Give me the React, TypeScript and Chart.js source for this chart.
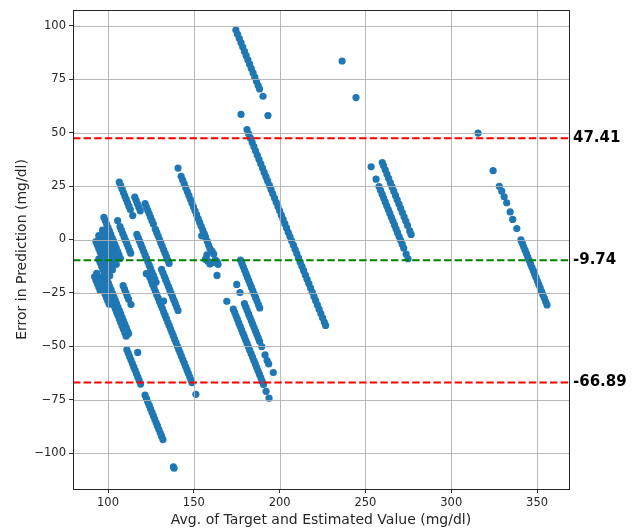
import React, { useEffect, useRef } from "react";
import { Chart, registerables } from "chart.js";

Chart.register(...registerables);

// ---- Data (avg of target & estimate, error in prediction) ----
const leftCluster: [number, number][] = [
  [97.6, 10.4], [98.4, 8.8], [99.2, 7.2], [100, 5.6], [100.8, 4], [101.6, 2.4], [102.4, 0.8], [103.2, -0.8], [104, -2.4], [104.8, -4], [105.6, -5.6], [106.4, -7.2], [107.2, -8.8],
  [96.8, 4.4], [97.6, 2.8], [98.4, 1.2], [99.2, -0.4], [100, -2], [100.8, -3.6], [101.6, -5.2], [102.4, -6.8], [103.2, -8.4], [104, -10], [104.8, -11.6],
  [94.6, 1.8], [95.4, 0.2], [96.2, -1.4], [97, -3], [97.8, -4.6], [98.6, -6.2], [99.4, -7.8], [100.2, -9.4], [101, -11], [101.8, -12.6], [102.6, -14.2],
  [93, -1], [93.8, -2.6], [94.6, -4.2], [95.4, -5.8], [96.2, -7.4], [97, -9], [97.8, -10.6], [98.6, -12.2], [99.4, -13.8], [100.2, -15.4], [101, -17],
  [94.6, -9.2], [95.4, -10.8], [96.2, -12.4], [97, -14], [97.8, -15.6], [98.6, -17.2], [99.4, -18.8], [100.2, -20.4], [101, -22], [101.8, -23.6], [102.6, -25.2], [103.4, -26.8], [104.2, -28.4], [105, -30], [105.8, -31.6], [106.6, -33.2], [107.4, -34.8], [108.2, -36.4], [109, -38], [109.8, -39.6], [110.6, -41.2], [111.4, -42.8], [112, -44],
  [97, -18], [97.8, -19.6], [98.6, -21.2], [99.4, -22.8], [100.2, -24.4], [101, -26], [101.8, -27.6], [102.6, -29.2], [103.4, -30.8], [104.2, -32.4], [105, -34], [105.8, -35.6], [106.6, -37.2], [107.4, -38.8], [108.2, -40.4], [109, -42], [109.8, -43.6], [110.6, -45.2],
  [93.4, -15.8], [94.2, -17.4], [95, -19], [95.8, -20.6], [96.6, -22.2], [97.4, -23.8], [98.2, -25.4], [99, -27], [99.8, -28.6], [100.6, -30.2],
  [92.2, -17.4], [93, -19], [93.8, -20.6], [94.6, -22.2], [95.4, -23.8],
  [105.6, 8.8], [107, 6], [107.8, 4.4], [108.6, 2.8], [109.4, 1.2], [110.2, -0.4], [111, -2], [111.8, -3.6], [112.6, -5.2], [113.2, -6.4],
  [108.8, -21.6], [109.6, -23.2], [110.4, -24.8], [111.2, -26.4], [112, -28], [113.4, -30.4],
];

const lowerStreaks: [number, number][] = [
  [111, -51.6], [111.8, -53.2], [112.6, -54.8], [113.4, -56.4], [114.2, -58], [115, -59.6], [115.8, -61.2], [116.6, -62.8], [117.4, -64.4], [118.2, -66], [119, -67.6], [117.3, -52.8],
  [121.6, -72.8], [122.4, -74.4], [123.2, -76], [124, -77.6], [124.8, -79.2], [125.6, -80.8], [126.4, -82.4], [127.2, -84], [128, -85.6], [128.8, -87.2], [129.6, -88.8], [130.4, -90.4], [131.2, -92], [132, -93.6],
  [138.1, -106.3], [138.5, -107],
];

const centerStreaks: [number, number][] = [
  [106.6, 26.8], [107.4, 25.2], [108.2, 23.6], [109, 22], [109.8, 20.4], [110.6, 18.8], [111.4, 17.2], [112.2, 15.6], [113, 14], [114.4, 11.2],
  [115.6, 19.8], [116.4, 18.2], [117.2, 16.6], [118, 15], [118.8, 13.4],
  [121.6, 16.8], [122.4, 15.2], [123.2, 13.6], [124, 12], [124.8, 10.4], [125.6, 8.8], [126.4, 7.2], [127.6, 4.8], [128.4, 3.2], [129.2, 1.6], [130, 0], [130.8, -1.6], [131.6, -3.2], [132.4, -4.8], [133.2, -6.4], [134, -8], [134.8, -9.6], [135.6, -11.2],
  [116.8, 2.4], [117.6, 0.8], [118.4, -0.8], [119.2, -2.4], [120, -4], [120.8, -5.6], [121.6, -7.2], [122.4, -8.8], [123.2, -10.4], [124, -12], [124.8, -13.6], [125.6, -15.2], [126.4, -16.8], [127.2, -18.4], [128, -20],
  [123.6, -16.2], [124.4, -17.8], [125.2, -19.4], [126, -21], [126.8, -22.6], [127.6, -24.2], [128.4, -25.8], [129.2, -27.4], [130, -29], [130.8, -30.6], [131.6, -32.2], [132.4, -33.8], [133.2, -35.4], [134, -37], [134.8, -38.6], [135.6, -40.2], [136.4, -41.8], [137.2, -43.4], [138, -45], [138.8, -46.6], [139.6, -48.2], [140.4, -49.8], [141.2, -51.4], [142, -53], [142.8, -54.6], [143.6, -56.2], [144.4, -57.8], [145.2, -59.4], [146, -61], [146.8, -62.6], [147.6, -64.2], [148.4, -65.8], [149, -67], [151.2, -72.4],
  [131.2, -14], [132, -15.6], [132.8, -17.2], [133.6, -18.8], [134.4, -20.4], [135.2, -22], [136, -23.6], [136.8, -25.2], [137.6, -26.8], [138.4, -28.4], [139.2, -30], [140, -31.6], [140.8, -33.2],
  [122.3, -16], [132.4, -28.8],
];

const middleStreaks: [number, number][] = [
  [140.8, 33.4],
  [142.6, 29.6], [143.5, 27.8], [144.4, 26], [145.3, 24.2], [146.2, 22.4], [147.1, 20.6], [148, 18.8], [148.9, 17], [149.8, 15.2], [150.7, 13.4], [151.6, 11.6], [152.5, 9.8], [153.4, 8], [154.3, 6.2], [155.2, 4.4], [156.1, 2.6], [156.8, 1.2],
  [154.6, 1.7], [157.8, -0.8], [158.6, -2.6], [159.4, -4.2], [160.6, -5.4], [161.6, -6.8], [157.6, -7.2], [156.8, -9.2], [158.2, -10.2], [159.4, -11.5], [161.2, -10.7], [162.6, -9.6], [163.6, -10.4], [164.1, -11.6], [163.5, -16.8],
  [177.2, -9.6], [178, -11.2], [178.8, -12.8], [179.6, -14.4], [180.4, -16], [181.2, -17.6], [182, -19.2], [182.8, -20.8], [183.6, -22.4], [184.4, -24], [185.2, -25.6], [186, -27.2], [186.8, -28.8], [187.6, -30.4], [188.4, -32],
  [175, -21], [176.9, -24.8],
  [179.5, -30], [180.3, -31.6], [181.1, -33.2], [181.9, -34.8], [182.7, -36.4], [183.5, -38], [184.3, -39.6], [185.1, -41.2], [185.9, -42.8], [186.7, -44.4], [187.5, -46], [188.3, -47.6],
  [189.6, -50.1], [191.5, -54], [192.7, -56.6], [193.6, -58.2], [196.3, -62.2],
  [169.2, -28.9],
  [173, -32.6], [173.8, -34.2], [174.6, -35.8], [175.4, -37.4], [176.2, -39], [177, -40.6], [177.8, -42.2], [178.6, -43.8], [179.4, -45.4], [180.2, -47], [181, -48.6], [181.8, -50.2], [182.6, -51.8], [183.4, -53.4], [184.2, -55], [185, -56.6], [185.8, -58.2], [186.6, -59.8], [187.4, -61.4], [188.2, -63], [189, -64.6], [189.8, -66.2], [190.6, -67.8],
  [192.1, -71], [193.8, -74.2],
];

const upperStreaks: [number, number][] = [
  [174.5, 98], [175.5, 96], [176.5, 94], [177.5, 92], [178.5, 90], [179.5, 88], [180.5, 86], [181.5, 84], [182.5, 82], [183.5, 80], [184.5, 78], [185.5, 76], [186.5, 74], [187.5, 72], [188.3, 70.4], [190.3, 67],
  [177.5, 58.5], [193.2, 58],
  [181, 51.4], [182, 49.4], [183, 47.4], [184, 45.4], [185, 43.4], [186, 41.4], [187, 39.4], [188, 37.4], [189, 35.4], [190, 33.4], [191, 31.4], [192, 29.4], [193, 27.4], [194, 25.4], [195, 23.4], [196, 21.4], [197, 19.4], [198, 17.4], [199, 15.4], [200, 13.4], [201, 11.4], [202, 9.4], [203, 7.4], [204, 5.4], [205, 3.4], [206, 1.4], [207, -0.6], [208, -2.6], [209, -4.6], [210, -6.6], [211, -8.6], [212, -10.6], [213, -12.6], [214, -14.6], [215, -16.6], [216, -18.6], [217, -20.6], [218, -22.6], [219, -24.6], [220, -26.6], [221, -28.6], [222, -30.6], [223, -32.6], [224, -34.6], [225, -36.6], [226, -38.6], [226.8, -40.2],
];

const rightStreaks: [number, number][] = [
  [236.4, 83.5], [244.5, 66.4],
  [259.8, 36], [260.5, 34.6], [261.5, 32.6], [262.5, 30.6], [263.5, 28.6], [264.5, 26.6], [265.5, 24.6], [266.5, 22.6], [267.5, 20.6], [268.5, 18.6], [269.5, 16.6], [270.5, 14.6], [271.5, 12.6], [272.5, 10.6], [273.5, 8.6], [274.5, 6.6], [275.8, 4], [276.6, 2.4],
  [253.3, 34], [256.2, 28.2], [257.9, 24.8], [258.8, 23], [259.7, 21.2], [260.6, 19.4], [261.5, 17.6], [262.4, 15.8], [263.3, 14], [264.2, 12.2], [265.1, 10.4], [266, 8.6], [266.9, 6.8], [267.8, 5], [268.7, 3.2], [269.6, 1.4], [270.5, -0.4], [271.4, -2.2], [272.3, -4], [273.7, -6.8], [274.8, -9],
  [315.6, 49.8], [324.4, 32.2], [328, 24.9], [329.4, 22.6], [330.8, 20], [332.3, 17.2], [334.3, 12.9], [335.8, 9.4], [338.2, 5.1],
  [340.6, -0.2], [341.4, -1.8], [342.2, -3.4], [343, -5], [343.8, -6.6], [344.6, -8.2], [345.4, -9.8], [346.2, -11.4], [347, -13], [347.8, -14.6], [348.6, -16.2], [349.4, -17.8], [350.2, -19.4], [351, -21], [351.8, -22.6], [352.6, -24.2], [353.4, -25.8], [354.2, -27.4], [355, -29], [355.8, -30.6],
];

const xTicks = [100, 150, 200, 250, 300, 350];
const yTicks = [-100, -75, -50, -25, 0, 25, 50, 75, 100];
const limitValues = [47.41, -9.74, -66.89];
const limitLabels = ["47.41", "-9.74", "-66.89"];
const xRange = [79.6, 368.6];
const yRange = [-116.7, 107.4];
const xTitle = "Avg. of Target and Estimated Value (mg/dl)";
const yTitle = "Error in Prediction (mg/dl)";

const limitColors = ["#ff0000", "#008000", "#ff0000"];
const FONT = "'DejaVu Sans', sans-serif";

const fmt = (v: number) => (v < 0 ? "\u2212" + Math.abs(v) : String(v));

export default function App() {
  const ref = useRef<HTMLCanvasElement | null>(null);
  useEffect(() => {
    const canvas = ref.current;
    if (!canvas) return;
    const points = [...leftCluster, ...lowerStreaks, ...centerStreaks, ...middleStreaks, ...upperStreaks, ...rightStreaks].map(
      ([x, y]) => ({ x, y })
    );

    const overlay = {
      id: "overlay",
      afterDatasetsDraw(chart: any) {
        const { ctx, chartArea: a, scales } = chart;
        const xs = scales.x;
        const ys = scales.y;
        ctx.save();
        // grid (drawn above markers like matplotlib)
        ctx.strokeStyle = "rgba(176,176,176,0.9)";
        ctx.lineWidth = 1;
        ctx.beginPath();
        xTicks.forEach((v) => {
          const px = Math.round(xs.getPixelForValue(v)) + 0.5;
          ctx.moveTo(px, a.top);
          ctx.lineTo(px, a.bottom);
        });
        yTicks.forEach((v) => {
          const py = Math.round(ys.getPixelForValue(v)) + 0.5;
          ctx.moveTo(a.left, py);
          ctx.lineTo(a.right, py);
        });
        ctx.stroke();
        // limit lines
        ctx.lineWidth = 2;
        ctx.setLineDash([7.4, 3.2]);
        limitValues.forEach((v, i) => {
          const py = ys.getPixelForValue(v);
          ctx.strokeStyle = limitColors[i];
          ctx.beginPath();
          ctx.moveTo(a.left, py);
          ctx.lineTo(a.right, py);
          ctx.stroke();
        });
        ctx.setLineDash([]);
        // frame
        ctx.strokeStyle = "#262626";
        ctx.lineWidth = 1;
        ctx.strokeRect(Math.round(a.left) + 0.5, Math.round(a.top) + 0.5, Math.round(a.right - a.left), Math.round(a.bottom - a.top));
        ctx.restore();
      },
      afterDraw(chart: any) {
        const { ctx, chartArea: a, scales } = chart;
        ctx.save();
        ctx.font = `bold 15px ${FONT}`;
        ctx.fillStyle = "#000";
        ctx.textAlign = "left";
        ctx.textBaseline = "middle";
        limitValues.forEach((v, i) => {
          ctx.fillText(limitLabels[i], a.right + 4, scales.y.getPixelForValue(v));
        });
        ctx.restore();
      },
    };

    const chart = new Chart(canvas, {
      type: "scatter",
      data: {
        datasets: [
          {
            data: points,
            backgroundColor: "#1f77b4",
            borderColor: "#1f77b4",
            borderWidth: 0,
            pointRadius: 3.6,
            pointHoverRadius: 3.6,
          },
        ],
      },
      options: {
        animation: false,
        responsive: false,
        events: [],
        layout: { padding: { left: 0, right: 71, top: 6, bottom: 0 } },
        plugins: { legend: { display: false }, tooltip: { enabled: false } },
        scales: {
          x: {
            type: "linear",
            min: xRange[0],
            max: xRange[1],
            afterBuildTicks: (s: any) => {
              s.ticks = xTicks.map((value) => ({ value }));
            },
            afterFit: (s: any) => {
              s.height = 42;
            },
            border: { display: false },
            grid: { drawOnChartArea: false, drawTicks: true, tickLength: 4, tickColor: "#333", lineWidth: 1 },
            ticks: { autoSkip: false, maxRotation: 0, minRotation: 0, padding: 3, color: "#262626", font: { family: FONT, size: 11.5 }, callback: (v: any) => fmt(Number(v)) },
            title: { display: true, text: xTitle, color: "#262626", font: { family: FONT, size: 14 }, padding: { top: 0, bottom: 2.5 } },
          },
          y: {
            type: "linear",
            min: yRange[0],
            max: yRange[1],
            afterBuildTicks: (s: any) => {
              s.ticks = yTicks.map((value) => ({ value }));
            },
            afterFit: (s: any) => {
              s.width = 73;
            },
            border: { display: false },
            grid: { drawOnChartArea: false, drawTicks: true, tickLength: 4, tickColor: "#333", lineWidth: 1 },
            ticks: { autoSkip: false, padding: 3, color: "#262626", font: { family: FONT, size: 11.5 }, callback: (v: any) => fmt(Number(v)) },
            title: { display: true, text: yTitle, color: "#262626", font: { family: FONT, size: 14 }, padding: { top: 14, bottom: 0 } },
          },
        },
      },
      plugins: [overlay],
    } as any);
    return () => chart.destroy();
  }, []);

  return (
    <div style={{ position: "fixed", left: 0, top: 0, width: 640, height: 531, background: "#fff" }}>
      <canvas ref={ref} width={640} height={531} style={{ display: "block", width: 640, height: 531 }} />
    </div>
  );
}
